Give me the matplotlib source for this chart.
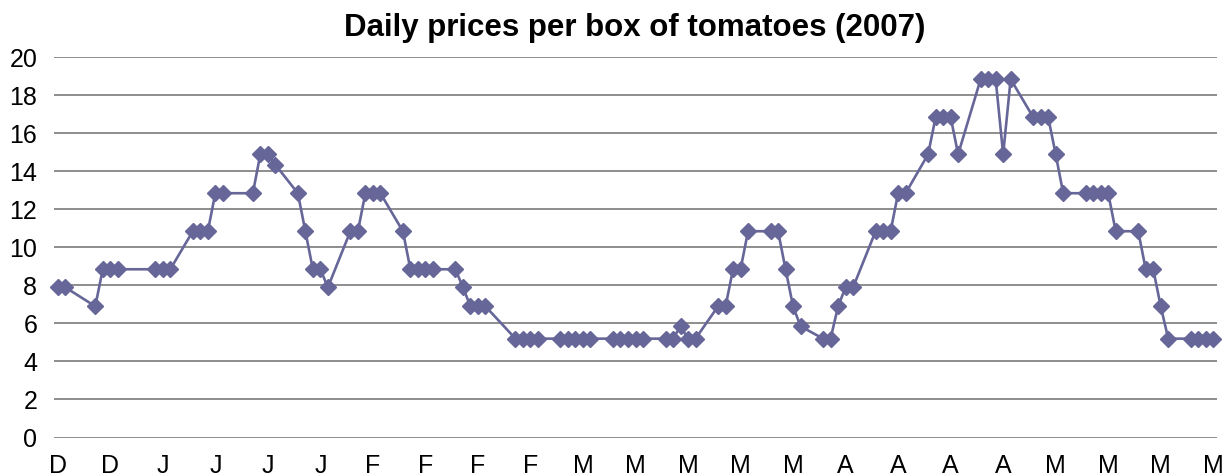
import matplotlib
matplotlib.use("Agg")
import matplotlib.pyplot as plt
import numpy as np
import pandas as pd

plt.rcParams['font.family'] = ['Liberation Sans', 'DejaVu Sans']

# Trading dates (Dec 2006 - May 2007) and price per box
dates = [
    "2006-12-21", "2006-12-22", "2006-12-26", "2006-12-27", "2006-12-28", "2006-12-29",
    "2007-01-03", "2007-01-04", "2007-01-05", "2007-01-08", "2007-01-09", "2007-01-10",
    "2007-01-11", "2007-01-12", "2007-01-16", "2007-01-17", "2007-01-18", "2007-01-19",
    "2007-01-22", "2007-01-23", "2007-01-24", "2007-01-25", "2007-01-26",
    "2007-01-29", "2007-01-30", "2007-01-31", "2007-02-01", "2007-02-02",
    "2007-02-05", "2007-02-06", "2007-02-07", "2007-02-08", "2007-02-09",
    "2007-02-12", "2007-02-13", "2007-02-14", "2007-02-15", "2007-02-16",
    "2007-02-20", "2007-02-21", "2007-02-22", "2007-02-23",
    "2007-02-26", "2007-02-27", "2007-02-28", "2007-03-01", "2007-03-02",
    "2007-03-05", "2007-03-06", "2007-03-07", "2007-03-08", "2007-03-09",
    "2007-03-12", "2007-03-13", "2007-03-14", "2007-03-15", "2007-03-16",
    "2007-03-19", "2007-03-20", "2007-03-21", "2007-03-22", "2007-03-23",
    "2007-03-26", "2007-03-27", "2007-03-28", "2007-03-29", "2007-03-30",
    "2007-04-02", "2007-04-03", "2007-04-04", "2007-04-05", "2007-04-06",
    "2007-04-09", "2007-04-10", "2007-04-11", "2007-04-12", "2007-04-13",
    "2007-04-16", "2007-04-17", "2007-04-18", "2007-04-19", "2007-04-20",
    "2007-04-23", "2007-04-24", "2007-04-25", "2007-04-26", "2007-04-27",
    "2007-04-30", "2007-05-01", "2007-05-02", "2007-05-03", "2007-05-04",
    "2007-05-07", "2007-05-08", "2007-05-09", "2007-05-10", "2007-05-11",
    "2007-05-14", "2007-05-15", "2007-05-16", "2007-05-17", "2007-05-18",
    "2007-05-21", "2007-05-22", "2007-05-23", "2007-05-24",
]
prices = [
    7.9, 7.9, 6.9, 8.85, 8.85, 8.85,
    8.85, 8.85, 8.85, 10.85, 10.85, 10.85,
    12.85, 12.85, 12.85, 14.9, 14.9, 14.35,
    12.85, 10.85, 8.85, 8.85, 7.9,
    10.85, 10.85, 12.85, 12.85, 12.85,
    10.85, 8.85, 8.85, 8.85, 8.85,
    8.85, 7.9, 6.9, 6.9, 6.9,
    5.2, 5.2, 5.2, 5.2,
    5.2, 5.2, 5.2, 5.2, 5.2,
    5.2, 5.2, 5.2, 5.2, 5.2,
    5.2, 5.2, 5.85, 5.2, 5.2,
    6.9, 6.9, 8.85, 8.85, 10.85,
    10.85, 10.85, 8.85, 6.9, 5.85,
    5.2, 5.2, 6.9, 7.9, 7.9,
    10.85, 10.85, 10.85, 12.85, 12.85,
    14.9, 16.85, 16.85, 16.85, 14.9,
    18.85, 18.85, 18.85, 14.9, 18.85,
    16.85, 16.85, 16.85, 14.9, 12.85,
    12.85, 12.85, 12.85, 12.85, 10.85,
    10.85, 8.85, 8.85, 6.9, 5.2,
    5.2, 5.2, 5.2, 5.2,
]
axis_start = "2006-12-21"
axis_end = "2007-05-24"
y_ticks = [0, 2, 4, 6, 8, 10, 12, 14, 16, 18, 20]
title = "Daily prices per box of tomatoes (2007)"

start = pd.Timestamp(axis_start)
end = pd.Timestamp(axis_end)
x = np.array([(pd.Timestamp(d) - start).days for d in dates])
n_days = (end - start).days

tick_pos = np.arange(0, n_days + 1, 7)
tick_labels = [(start + pd.Timedelta(days=int(t))).strftime("%B")[0] for t in tick_pos]

fig = plt.figure(figsize=(12.3, 4.76), dpi=100)
ax = fig.add_axes([54 / 1230, (476 - 437.5) / 476, (1217 - 54) / 1230, (437.5 - 57.3) / 476])

for yv in y_ticks:
    ax.axhline(yv, color="#7a7a7a", linewidth=1.2, zorder=1)

ax.plot(x, prices, color="#666699", linewidth=1.9, marker="D", markersize=8.5,
        markerfacecolor="#666699", markeredgecolor="#666699", zorder=3, clip_on=False)

ax.set_xlim(-0.5, n_days + 0.5)
ax.set_ylim(0, 20)
ax.set_yticks(y_ticks)
ax.set_yticklabels([str(v) for v in y_ticks])
ax.set_xticks(tick_pos)
ax.set_xticklabels(tick_labels)
ax.tick_params(axis="both", length=0, labelsize=18, colors="black")
ax.tick_params(axis="y", pad=12)
ax.tick_params(axis="x", pad=12)
for s in ax.spines.values():
    s.set_visible(False)

fig.text(0.516, (476 - 36) / 476, title, fontsize=22.5, fontweight="bold",
         ha="center", va="baseline")

fig.savefig("out.png", dpi=100)
